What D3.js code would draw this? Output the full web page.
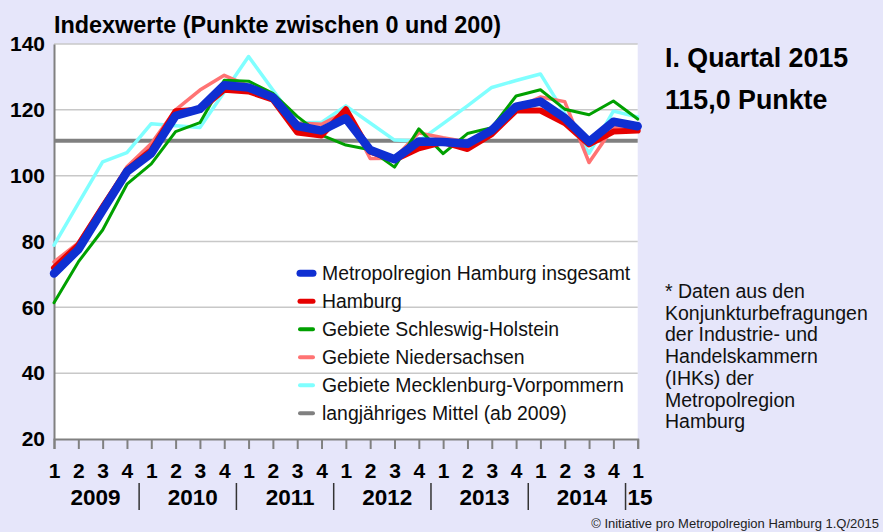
<!DOCTYPE html>
<html>
<head>
<meta charset="utf-8">
<script src="https://d3js.org/d3.v7.min.js"></script>
<style>
  body { margin: 0; background: #e6e6fa; }
  svg { display: block; font-family: "Liberation Sans", Arial, sans-serif; }
</style>
</head>
<body>
<script>
// quarters 2009 Q1 .. 2015 Q1
var quarters = ["1","2","3","4","1","2","3","4","1","2","3","4","1","2","3","4","1","2","3","4","1","2","3","4","1"];
var years = ["2009","2010","2011","2012","2013","2014","15"];

var metropol = [70.3, 77.6, 89.5, 101.2, 106.8, 118.2, 120.3, 127.5, 126.8, 123.8, 115.1, 113.7, 117.4, 107.8, 105.0, 110.4, 110.2, 109.7, 113.8, 121.0, 122.5, 117.5, 110.3, 116.4, 115.0];
var hamburg = [72.0, 78.9, 90.5, 101.7, 107.8, 119.6, 120.0, 126.1, 125.6, 123.1, 113.1, 112.2, 120.2, 107.3, 104.8, 108.3, 110.2, 108.1, 112.6, 119.8, 119.8, 116.0, 109.5, 113.4, 113.7];
var schleswig = [61.4, 73.8, 83.5, 97.4, 103.6, 113.4, 116.1, 129.0, 128.7, 125.0, 118.0, 112.3, 109.3, 107.9, 102.6, 114.2, 106.7, 112.8, 114.6, 124.2, 126.1, 120.2, 118.5, 122.7, 117.2];
var niedersachsen = [73.8, 79.6, 91.0, 102.7, 109.8, 120.0, 126.0, 130.5, 127.3, 123.5, 116.0, 115.6, 119.4, 105.2, 105.3, 113.0, 111.5, 110.2, 113.0, 120.5, 123.9, 122.5, 104.0, 114.7, 115.1];
var mecklenburg = [78.9, 91.6, 104.2, 107.0, 115.8, 115.2, 114.6, 125.4, 136.2, 126.0, 116.0, 116.2, 121.2, 116.0, 110.8, 110.5, 115.8, 121.2, 126.8, 128.9, 130.9, 118.9, 106.8, 119.6, 117.8];
var mittel = 110.6;

var yTicks = [20, 40, 60, 80, 100, 120, 140];

var seriesNames = ["Metropolregion Hamburg insgesamt", "Hamburg", "Gebiete Schleswig-Holstein",
                   "Gebiete Niedersachsen", "Gebiete Mecklenburg-Vorpommern", "langjähriges Mittel (ab 2009)"];
var colors = ["#0f2fd2", "#e60000", "#00a000", "#ff7373", "#80ffff", "#808080"];
var widths = [8.5, 6, 3, 3.5, 3.5, 4];
var legendWidths = [7, 5, 4, 4, 4, 4];

var footnote = ["* Daten aus den", "Konjunkturbefragungen", "der Industrie- und", "Handelskammern",
                "(IHKs) der", "Metropolregion", "Hamburg"];

var w = 883, h = 532;
var plotLeft = 54, plotRight = 637.7, plotTop = 44, plotBottom = 439;

var svg = d3.select("body").append("svg").attr("width", w).attr("height", h);
svg.append("rect").attr("width", w).attr("height", h).attr("fill", "#e6e6fa");

var x = d3.scaleLinear().domain([0, quarters.length - 1]).range([plotLeft, plotRight]);
var y = d3.scaleLinear().domain([20, 140]).range([plotBottom, plotTop]);

// plot area
svg.append("rect").attr("x", plotLeft).attr("y", plotTop)
  .attr("width", plotRight - plotLeft).attr("height", plotBottom - plotTop).attr("fill", "#fff");

// grid
svg.append("g").selectAll("line").data(yTicks.slice(1)).join("line")
  .attr("x1", plotLeft).attr("x2", plotRight)
  .attr("y1", d => y(d)).attr("y2", d => y(d))
  .attr("stroke", "#c8c8c8").attr("stroke-width", 1.5);

// y axis
var yAxis = d3.axisLeft(y).tickValues(yTicks).tickSize(0).tickPadding(9);
var gy = svg.append("g").attr("transform", "translate(" + plotLeft + ",0)").call(yAxis);
gy.select(".domain").attr("stroke", "#808080").attr("stroke-width", 2);
gy.selectAll("text").attr("font-size", 21).attr("font-weight", "bold").attr("fill", "#000")
  .attr("font-family", "Liberation Sans, Arial, sans-serif");

// x axis
var xAxis = d3.axisBottom(x).tickValues(d3.range(quarters.length)).tickSize(10).tickPadding(14)
  .tickFormat(i => quarters[i]);
var gx = svg.append("g").attr("transform", "translate(0," + plotBottom + ")").call(xAxis);
gx.select(".domain").attr("stroke", "#808080").attr("stroke-width", 2);
gx.selectAll(".tick line").attr("stroke", "#808080").attr("stroke-width", 2);
gx.selectAll("text").attr("font-size", 21).attr("font-weight", "bold").attr("fill", "#000")
  .attr("font-family", "Liberation Sans, Arial, sans-serif");

// year labels and separators
svg.append("g").selectAll("line").data(d3.range(1, years.length)).join("line")
  .attr("x1", d => x(d * 4 - 0.5)).attr("x2", d => x(d * 4 - 0.5))
  .attr("y1", 483).attr("y2", 510)
  .attr("stroke", "#333").attr("stroke-width", 1.5);
svg.append("g").selectAll("text").data(years).join("text")
  .attr("x", (d, i) => i < years.length - 1 ? x(i * 4 + 1.5) + 5 : x(i * 4 - 0.5) + 2)
  .attr("y", 505)
  .attr("text-anchor", (d, i) => i < years.length - 1 ? "middle" : "start")
  .attr("font-size", 22.5).attr("font-weight", "bold")
  .text(d => d);

// mean line
svg.append("line")
  .attr("x1", plotLeft).attr("x2", plotRight)
  .attr("y1", y(mittel)).attr("y2", y(mittel))
  .attr("stroke", colors[5]).attr("stroke-width", widths[5]);

var line = d3.line().x((d, i) => x(i)).y(d => y(d));
var series = [metropol, hamburg, schleswig, niedersachsen, mecklenburg];
var order = [4, 3, 2, 1, 0];
order.forEach(function (k) {
  svg.append("path")
    .attr("d", line(series[k]))
    .attr("fill", "none")
    .attr("stroke", colors[k])
    .attr("stroke-width", widths[k])
    .attr("stroke-linejoin", "round")
    .attr("stroke-linecap", "round");
});

// legend
var lg = svg.append("g").selectAll("g").data(seriesNames).join("g")
  .attr("transform", (d, i) => "translate(298," + (273.3 + i * 28) + ")");
lg.append("line").attr("x1", 2).attr("x2", 15).attr("y1", 0).attr("y2", 0)
  .attr("stroke", (d, i) => colors[i]).attr("stroke-width", (d, i) => legendWidths[i])
  .attr("stroke-linecap", "round");
lg.append("text").attr("x", 24).attr("y", 7).attr("font-size", 19.4).attr("fill", "#111")
  .text(d => d);

// title
svg.append("text").attr("x", plotLeft).attr("y", 33).attr("font-size", 23.4).attr("font-weight", "bold")
  .text("Indexwerte (Punkte zwischen 0 und 200)");

// right side
svg.append("text").attr("x", 665).attr("y", 67).attr("font-size", 26.8).attr("font-weight", "bold")
  .text("I. Quartal 2015");
svg.append("text").attr("x", 665).attr("y", 109).attr("font-size", 26.8).attr("font-weight", "bold")
  .text("115,0 Punkte");

svg.append("g").selectAll("text").data(footnote).join("text")
  .attr("x", 665).attr("y", (d, i) => 298 + i * 21.7)
  .attr("font-size", 19.5).attr("fill", "#111")
  .text(d => d);

svg.append("text").attr("x", 879).attr("y", 528).attr("text-anchor", "end")
  .attr("font-size", 13).attr("fill", "#222")
  .text("© Initiative pro Metropolregion Hamburg 1.Q/2015");
</script>
</body>
</html>
